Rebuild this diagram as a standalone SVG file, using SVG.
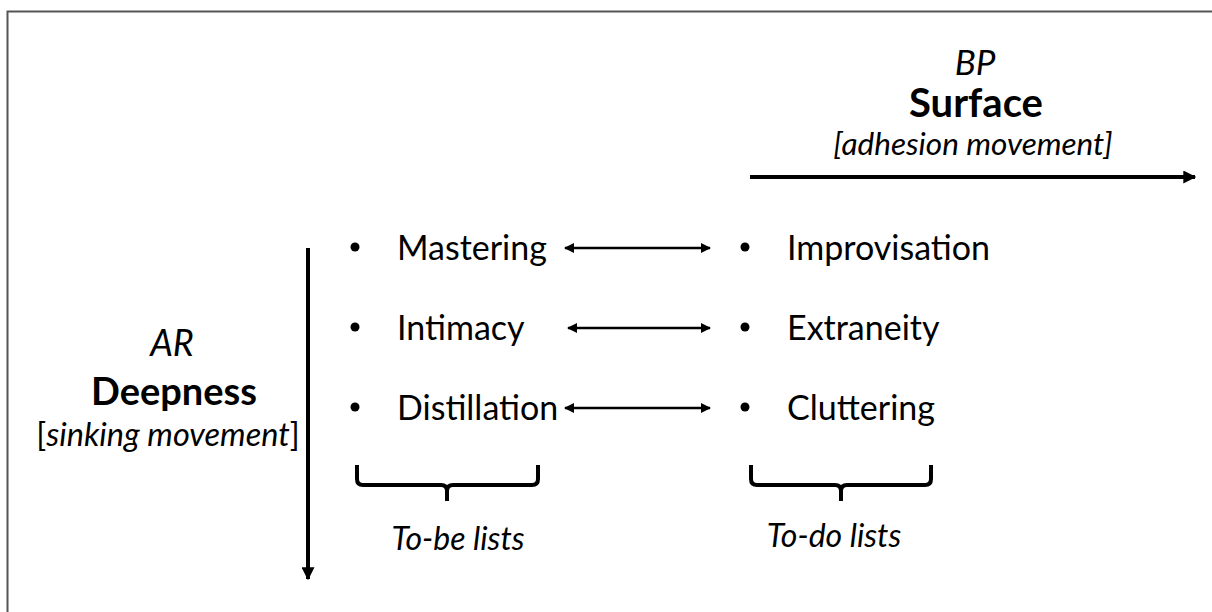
<svg xmlns="http://www.w3.org/2000/svg" width="1212" height="612" viewBox="0 0 1212 612">
<style>
.t{font-family:Lato,"Liberation Sans",sans-serif;fill:#000}
.it{font-style:italic}
.b{font-weight:bold}
.item{font-size:34px}
.ln{stroke:#000;fill:none}
.brace{stroke:#000;fill:none;stroke-width:4;stroke-linejoin:round}
</style>
<defs>
<marker id="ah" viewBox="0 0 10 10" refX="9" refY="5" markerWidth="11" markerHeight="10" markerUnits="userSpaceOnUse" orient="auto-start-reverse"><path d="M0,0 L10,5 L0,10 z" fill="#000"/></marker>
<marker id="ahBig" viewBox="0 0 10 10" refX="9" refY="5" markerWidth="15" markerHeight="13" markerUnits="userSpaceOnUse" orient="auto"><path d="M0,0 L10,5 L0,10 z" fill="#000"/></marker>
</defs>
<rect width="1212" height="612" fill="#fff"/>
<path d="M7.5,612 V11.5 H1212" stroke="#555" stroke-width="2" fill="none"/>

<g id="surface">
<text class="t it" x="975" y="75" font-size="35" text-anchor="middle">BP</text>
<text class="t b" x="976" y="117" font-size="40" text-anchor="middle">Surface</text>
<text class="t it" x="973" y="155" font-size="31.5" text-anchor="middle">[adhesion movement]</text>
</g>
<g id="deepness">
<text class="t it" x="172" y="356" font-size="36" text-anchor="middle">AR</text>
<text class="t b" x="174" y="405" font-size="38" text-anchor="middle">Deepness</text>
<text class="t" x="168" y="446" font-size="32.5" text-anchor="middle">[<tspan class="it">sinking movement</tspan>]</text>
</g>

<g id="mastering"><circle cx="355" cy="247" r="4.5"/><text class="t item" x="397" y="260">Mastering</text></g>
<g id="intimacy"><circle cx="355" cy="327" r="4.5"/><text class="t item" x="397" y="340">Intimacy</text></g>
<g id="distillation"><circle cx="355" cy="407" r="4.5"/><text class="t item" x="397" y="420">Distillation</text></g>
<g id="improvisation"><circle cx="745" cy="247" r="4.5"/><text class="t item" x="787" y="260">Improvisation</text></g>
<g id="extraneity"><circle cx="745" cy="327" r="4.5"/><text class="t item" x="787" y="340">Extraneity</text></g>
<g id="cluttering"><circle cx="745" cy="407" r="4.5"/><text class="t item" x="787" y="420">Cluttering</text></g>

<g id="tobe">
<path class="brace" d="M357,465 V479 Q357,485 363,485 H441 Q447,485 447,491 V501 M447,491 Q447,485 453,485 H532 Q538,485 538,479 V465"/>
<text class="t it" x="458" y="550" font-size="32" text-anchor="middle">To-be lists</text>
</g>
<g id="todo">
<path class="brace" d="M751,465 V479 Q751,485 757,485 H835 Q841,485 841,491 V501 M841,491 Q841,485 847,485 H925 Q931,485 931,479 V465"/>
<text class="t it" x="834" y="547" font-size="32" text-anchor="middle">To-do lists</text>
</g>

<g id="connectors">
<line class="ln" x1="750" y1="177" x2="1195" y2="177" stroke-width="4" marker-end="url(#ahBig)"/>
<line class="ln" x1="308" y1="248" x2="308" y2="579" stroke-width="4" marker-end="url(#ahBig)"/>
<line class="ln" x1="565" y1="248" x2="710" y2="248" stroke-width="2.5" marker-start="url(#ah)" marker-end="url(#ah)"/>
<line class="ln" x1="568" y1="328" x2="710" y2="328" stroke-width="2.5" marker-start="url(#ah)" marker-end="url(#ah)"/>
<line class="ln" x1="565" y1="408" x2="710" y2="408" stroke-width="2.5" marker-start="url(#ah)" marker-end="url(#ah)"/>
</g>
</svg>
